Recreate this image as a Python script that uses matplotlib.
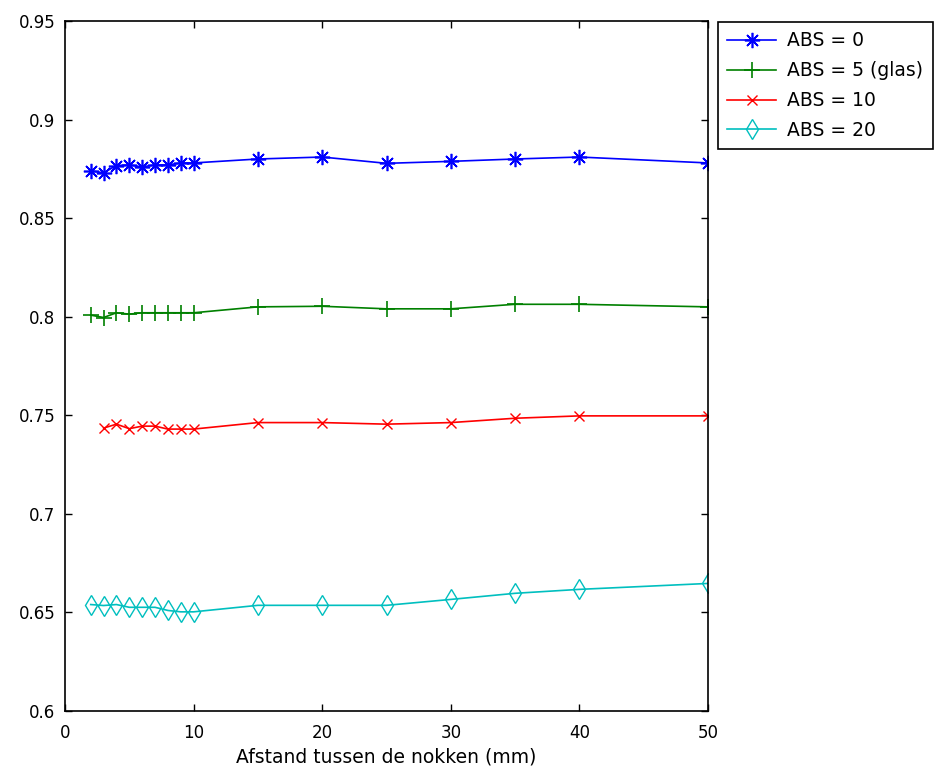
import numpy as np
import matplotlib
matplotlib.use("Agg")
import matplotlib.pyplot as plt

plt.rcParams['font.family'] = ['DejaVu Sans']

# afstand tussen de nokken (mm)
x_abs0 = [2, 3, 4, 5, 6, 7, 8, 9, 10, 15, 20, 25, 30, 35, 40, 50]
y_abs0 = [0.874, 0.873, 0.8767, 0.877, 0.876, 0.877, 0.877, 0.878, 0.878,
          0.880, 0.881, 0.8778, 0.8788, 0.880, 0.881, 0.878]

x_abs5 = [2, 3, 4, 5, 6, 7, 8, 9, 10, 15, 20, 25, 30, 35, 40, 50]
y_abs5 = [0.8008, 0.7996, 0.802, 0.8013, 0.802, 0.802, 0.802, 0.802, 0.802,
          0.805, 0.8053, 0.804, 0.804, 0.8063, 0.8063, 0.805]

x_abs10 = [3, 4, 5, 6, 7, 8, 9, 10, 15, 20, 25, 30, 35, 40, 50]
y_abs10 = [0.7435, 0.7455, 0.7432, 0.7445, 0.7445, 0.743, 0.743, 0.743,
           0.7463, 0.7463, 0.7455, 0.7463, 0.7485, 0.7497, 0.7497]

x_abs20 = [2, 3, 4, 5, 6, 7, 8, 9, 10, 15, 20, 25, 30, 35, 40, 50]
y_abs20 = [0.654, 0.6535, 0.654, 0.6526, 0.6526, 0.6526, 0.651, 0.6503, 0.6503,
           0.6536, 0.6536, 0.6536, 0.6566, 0.6597, 0.6617, 0.6647]

labels = ['ABS = 0', 'ABS = 5 (glas)', 'ABS = 10', 'ABS = 20']

xticks = [0, 10, 20, 30, 40, 50]
yticks = [0.6, 0.65, 0.7, 0.75, 0.8, 0.85, 0.9, 0.95]

fig = plt.figure(figsize=(9.37, 7.69), dpi=100)
ax = fig.add_axes([65/937, 1 - 711/769, (708-65)/937, (711-21)/769])

ax.plot(x_abs0, y_abs0, color=(0, 0, 1), lw=1.2, marker=(8, 2, 0), ms=11,
        mew=1.2, label=labels[0])
ax.plot(x_abs5, y_abs5, color=(0, 0.5, 0), lw=1.2, marker='+', ms=12,
        mew=1.2, label=labels[1])
ax.plot(x_abs10, y_abs10, color=(1, 0, 0), lw=1.2, marker='x', ms=7,
        mew=1.0, label=labels[2])
ax.plot(x_abs20, y_abs20, color=(0, 0.75, 0.75), lw=1.2, marker='d', ms=10,
        mew=1.0, mfc='none', label=labels[3])

ax.set_xlim(0, 50)
ax.set_ylim(0.6, 0.95)
ax.set_xticks(xticks)
ax.set_yticks(yticks)
ax.set_xticklabels([str(t) for t in xticks])
ax.set_yticklabels(['%g' % t for t in yticks])
ax.tick_params(direction='in', top=True, right=True, length=5, width=1,
               labelsize=12, pad=7)
ax.tick_params(axis='x', pad=9)
for s in ax.spines.values():
    s.set_linewidth(1.2)

ax.set_xlabel('Afstand tussen de nokken (mm)', fontsize=13.5, labelpad=4)

leg = ax.legend(loc='upper left', bbox_to_anchor=(718/937, 1 - 22/769),
                bbox_transform=fig.transFigure, numpoints=1, fancybox=False,
                edgecolor='black', fontsize=13.5, handlelength=2.6,
                borderaxespad=0, borderpad=0.5, labelspacing=0.58,
                handletextpad=0.6, framealpha=1)
leg.get_frame().set_linewidth(1.2)

fig.savefig('out.png', dpi=100)
